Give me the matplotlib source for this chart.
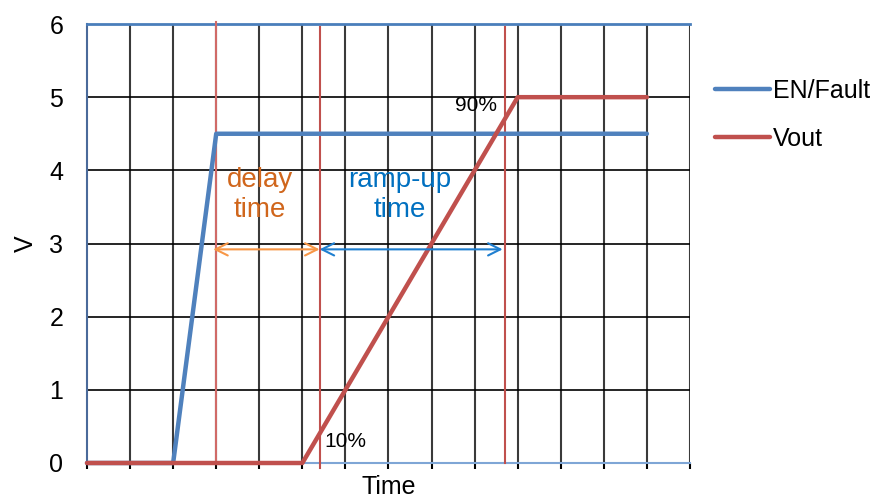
import matplotlib
matplotlib.use("Agg")
import matplotlib.pyplot as plt

plt.rcParams['font.family'] = ['Liberation Sans', 'DejaVu Sans']

# signal traces (time in grid units, volts)
en_t = [0, 2, 3, 13]
en_v = [0, 0, 4.5, 4.5]
vout_t = [0, 5, 10, 13]
vout_v = [0, 0, 5, 5]

# marker lines: EN edge, 10% point, 90% point
mark_t = [3, 5.4, 9.7]
arrow_v = 2.92

blue = '#4F81BD'
red = '#C0504D'

fig = plt.figure(figsize=(8.78, 5), dpi=100)
ax = fig.add_axes([87 / 878, 37 / 500, 603 / 878, 439 / 500])

ax.set_xlim(0, 14)
ax.set_ylim(0, 6)
ax.set_xticks(range(15))
ax.set_yticks(range(7))
ax.set_xticklabels([])
ax.tick_params(axis='x', direction='out', length=4, width=1.5, color='black')
ax.tick_params(axis='y', length=0, pad=17, labelsize=18)

# grid
for x in range(1, 15):
    ax.axvline(x, color='#3a3a3a', lw=1.5, zorder=1)
for y in range(1, 6):
    ax.axhline(y, color='black', lw=1.2, zorder=1)

ax.spines['right'].set_visible(False)
ax.spines['top'].set_color('#4A7EBB')
ax.spines['top'].set_linewidth(2)
ax.spines['left'].set_color('#4A6A9A')
ax.spines['left'].set_linewidth(1.5)
ax.spines['bottom'].set_color('#7FA6D6')
ax.spines['bottom'].set_linewidth(1.5)

# vertical markers
ax.plot([mark_t[0], mark_t[0]], [0, 6.03], color='#D06A67', lw=1.5, zorder=3, clip_on=False)
ax.plot([mark_t[1], mark_t[1]], [-0.07, 5.96], color=red, lw=1.5, zorder=3, clip_on=False)
ax.plot([mark_t[2], mark_t[2]], [0, 5.96], color=red, lw=1.5, zorder=3, clip_on=False)

ax.plot(en_t, en_v, color=blue, lw=3.2, solid_capstyle='round', zorder=4, label='EN/Fault', clip_on=False)
ax.plot(vout_t, vout_v, color=red, lw=3.2, solid_capstyle='round', zorder=5, label='Vout', clip_on=False)

# arrows
ax.annotate('', xy=(2.93, arrow_v), xytext=(mark_t[1], arrow_v),
            arrowprops=dict(arrowstyle='<->', color='#F79646', lw=1.5,
                            shrinkA=0, shrinkB=0, mutation_scale=22), zorder=6)
ax.annotate('', xy=(mark_t[1], arrow_v), xytext=(9.65, arrow_v),
            arrowprops=dict(arrowstyle='<->', color='#1F7FD0', lw=1.5,
                            shrinkA=0, shrinkB=0, mutation_scale=22), zorder=6)

ax.text(4.02, 3.66, 'delay\ntime', color='#D0661C', fontsize=20, ha='center', va='center',
        linespacing=1.2, zorder=7)
ax.text(7.27, 3.66, 'ramp-up\ntime', color='#0070C0', fontsize=20, ha='center', va='center',
        linespacing=1.2, zorder=7)
ax.text(9.52, 4.88, '90%', fontsize=15, ha='right', va='center', zorder=7)
ax.text(5.5, 0.3, '10%', fontsize=15, ha='left', va='center', zorder=7)

ax.set_xlabel('Time', fontsize=18, labelpad=1)
ax.set_ylabel('V', fontsize=18, labelpad=8)

ax.legend(loc='upper left', bbox_to_anchor=(1.025, 0.897), frameon=False, fontsize=18,
          handlelength=2.2, handletextpad=0.1, labelspacing=0.95, borderaxespad=0)

fig.savefig('out.png', dpi=100)
